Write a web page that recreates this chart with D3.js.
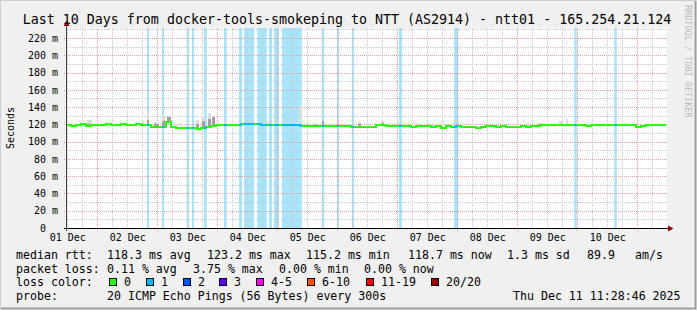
<!DOCTYPE html>
<html>
<head>
<meta charset="utf-8">
<script src="https://cdn.jsdelivr.net/npm/d3@7"></script>
<style>
  body { margin: 0; background: #f0f0f0; }
  svg text { font-family: "DejaVu Sans Mono", monospace; white-space: pre; }
</style>
</head>
<body>
<svg id="chart" width="697" height="310"></svg>
<script>
// time window of the graph (UTC)
const startTime = new Date(Date.UTC(2025, 11, 1, 11, 28, 46));
const endTime = new Date(Date.UTC(2025, 11, 11, 11, 28, 46));

// median rtt in ms, one value per 2 hour bin from startTime
const binHours = 2;
const medianRtt = [
  119.0, 118.3, 119.7, 120.5, 118.3, 119.7, 119.2, 119.5, 120.8, 119.2,
  119.5, 120.8, 119.7, 119.7, 119.9, 119.7, 119.2, 116.6, 116.6, 116.8,
  123.2, 116.5, 116.0, 115.8, 116.0, 115.8, 115.2, 115.5, 116.5, 117.7,
  119.7, 119.7, 119.7, 119.7, 119.7, 120.0, 120.5, 121.0, 120.0, 119.5,
  119.8, 119.5, 119.5, 119.3, 119.6, 119.3, 119.5, 117.7, 118.5, 118.3,
  118.6, 118.2, 118.0, 117.7, 118.0, 117.7, 117.7, 117.5, 116.6, 116.6,
  116.6, 116.8, 119.3, 119.0, 117.7, 117.7, 117.7, 117.7, 118.0, 117.5,
  117.7, 118.0, 117.7, 117.3, 117.7, 115.6, 117.7, 117.5, 117.7, 117.3,
  117.3, 117.3, 116.2, 116.5, 117.7, 117.7, 117.5, 118.5, 117.3, 117.3,
  117.5, 118.5, 117.3, 117.7, 118.5, 119.7, 119.7, 119.5, 119.2, 119.2,
  119.4, 119.2, 118.8, 119.0, 118.6, 118.8, 119.0, 118.7, 118.8, 119.0,
  118.8, 119.0, 118.7, 118.8, 117.5, 117.8, 118.8, 119.0, 118.7, 118.7,
];

// periods with 1/20 packet loss, hours after startTime
const lossFrom = [32.4, 38.4, 48.3, 50.4, 55.2, 63.2, 69.2, 71.2, 76.5, 81.2,
  83.2, 86.4, 102.3, 108.4, 114.3, 133.2, 155.2, 203.3, 219.3];
const lossTo = [33.2, 39.2, 49.2, 51.2, 56.3, 64.3, 70.4, 75.2, 80.3, 82.4,
  85.2, 94.3, 103.2, 109.2, 115.2, 134.4, 156.9, 204.3, 220.3];

// visible smoke: hours after startTime, highest ping and upper quartile (ms)
const smokeFrom = [8.4, 28.4, 32.4, 35.2, 38.4, 40.4, 52.0, 54.4, 56.8, 58.4,
  63.2, 80.4, 88.0, 93.2, 99.2, 102.4, 116.8, 126.0, 188.8, 197.2, 200.0, 203.2];
const smokeTo = [10.4, 29.2, 33.2, 37.2, 39.6, 42.0, 53.2, 55.6, 58.0, 59.6,
  64.0, 82.0, 89.2, 94.4, 100.0, 103.2, 118.0, 127.2, 190.4, 198.8, 200.8, 204.0];
const smokeHigh = [125, 121.5, 133, 123, 128, 130, 125, 130, 133, 128,
  124, 123, 122, 141, 121, 124, 123, 124, 122, 124, 126, 121];
const smokeMid = [121, 121.5, 125, 120, 124, 128, 121, 124, 126, 128,
  121, 120, 120, 121, 120, 124, 120, 122, 120, 120, 121, 121];

const dayLabels = ["01 Dec", "02 Dec", "03 Dec", "04 Dec", "05 Dec",
  "06 Dec", "07 Dec", "08 Dec", "09 Dec", "10 Dec"];
const yTicks = [0, 20, 40, 60, 80, 100, 120, 140, 160, 180, 200, 220];

const lossLegend = ["0", "1", "2", "3", "4-5", "6-10", "11-19", "20/20"];
const lossColors = ["#26ff00", "#00b8ff", "#0059ff", "#5e00ff",
  "#ff00ff", "#ff5500", "#ff0000", "#a10000"];

const title = "Last 10 Days from docker-tools-smokeping to NTT (AS2914) - ntt01 - 165.254.21.124";

const svg = d3.select("#chart");
const plot = { left: 66, right: 666, top: 28, bottom: 228 };

const x = d3.scaleUtc().domain([startTime, endTime]).range([plot.left, plot.right]);
const y = d3.scaleLinear().domain([0, 231.6]).range([plot.bottom, plot.top]);
const at = (h) => d3.utcMinute.offset(startTime, Math.round(h * 60));

// frame
svg.append("rect").attr("width", 697).attr("height", 310).attr("fill", "#f0f0f0");
svg.append("path").attr("d", "M0.5,309.5V0.5H696.5").attr("fill", "none").attr("stroke", "#cfcfcf");
svg.append("path").attr("d", "M1,308.5H695.5V1").attr("fill", "none").attr("stroke", "#9e9e9e").attr("stroke-width", 2);
svg.append("rect")
  .attr("x", plot.left).attr("y", plot.top)
  .attr("width", plot.right - plot.left + 1).attr("height", plot.bottom - plot.top)
  .attr("fill", "#fff");

// loss bands
svg.append("g").selectAll("rect")
  .data(lossFrom)
  .join("rect")
  .attr("x", (d) => x(at(d)))
  .attr("y", plot.top)
  .attr("width", (d, i) => x(at(lossTo[i])) - x(at(d)))
  .attr("height", plot.bottom - plot.top)
  .attr("fill", "#a8e4fa");

// grid
const grid = svg.append("g").attr("shape-rendering", "crispEdges");
const minorX = d3.utcHour.every(6).range(startTime, endTime).filter((d) => d.getUTCHours() !== 0);
const majorX = d3.utcDay.range(startTime, endTime);
grid.selectAll(".vminor").data(minorX).join("line")
  .attr("x1", (d) => Math.round(x(d)) + 0.5).attr("x2", (d) => Math.round(x(d)) + 0.5)
  .attr("y1", plot.top).attr("y2", plot.bottom)
  .attr("stroke", "#c8c8c8").attr("stroke-dasharray", "1,1");
const minorY = d3.range(10, 231, 20);
grid.selectAll(".hminor").data(minorY).join("line")
  .attr("x1", plot.left).attr("x2", plot.right + 2)
  .attr("y1", (d) => Math.round(y(d)) + 0.5).attr("y2", (d) => Math.round(y(d)) + 0.5)
  .attr("stroke", "#c8c8c8").attr("stroke-dasharray", "1,1");
grid.selectAll(".vmajor").data(majorX).join("line")
  .attr("x1", (d) => Math.round(x(d)) + 0.5).attr("x2", (d) => Math.round(x(d)) + 0.5)
  .attr("y1", plot.top).attr("y2", plot.bottom + 3)
  .attr("stroke", "#e8a0a0").attr("stroke-dasharray", "1,1");
grid.selectAll(".hmajor").data(yTicks.slice(1)).join("line")
  .attr("x1", plot.left - 2).attr("x2", plot.right + 2)
  .attr("y1", (d) => Math.round(y(d)) + 0.5).attr("y2", (d) => Math.round(y(d)) + 0.5)
  .attr("stroke", "#e8a0a0").attr("stroke-dasharray", "1,1");

// smoke
const medianAt = (h) => medianRtt[Math.min(medianRtt.length - 1, Math.floor(h / binHours))];
const smoke = svg.append("g").attr("shape-rendering", "crispEdges");
smoke.selectAll(".hi").data(smokeFrom).join("rect")
  .attr("x", (d) => x(at(d)))
  .attr("width", (d, i) => x(at(smokeTo[i])) - x(at(d)))
  .attr("y", (d, i) => y(smokeHigh[i]))
  .attr("height", (d, i) => Math.max(0, y(medianAt(d)) - y(smokeHigh[i])))
  .attr("fill", "#dcdcdc");
smoke.selectAll(".mid").data(smokeFrom).join("rect")
  .attr("x", (d) => x(at(d)))
  .attr("width", (d, i) => x(at(smokeTo[i])) - x(at(d)))
  .attr("y", (d, i) => y(smokeMid[i]))
  .attr("height", (d, i) => Math.max(0, y(medianAt(d)) - y(smokeMid[i])))
  .attr("fill", "#a0a0a0");

// median line, green, blue where a ping was lost
const medianPoints = medianRtt.map((v, i) => [at(i * binHours), v]);
medianPoints.push([endTime, medianRtt[medianRtt.length - 1]]);
const line = d3.line()
  .x((d) => x(d[0]))
  .y((d) => y(d[1]))
  .curve(d3.curveStepAfter);

svg.append("path")
  .datum(medianPoints)
  .attr("fill", "none")
  .attr("stroke", lossColors[0])
  .attr("stroke-width", 2)
  .attr("shape-rendering", "crispEdges")
  .attr("d", line);

const defs = svg.append("defs");
lossFrom.forEach((d, i) => {
  defs.append("clipPath").attr("id", `loss-${i}`)
    .append("rect")
    .attr("x", x(at(d))).attr("y", plot.top)
    .attr("width", x(at(lossTo[i])) - x(at(d)))
    .attr("height", plot.bottom - plot.top);
  svg.append("path")
    .datum(medianPoints)
    .attr("clip-path", `url(#loss-${i})`)
    .attr("fill", "none")
    .attr("stroke", lossColors[1])
    .attr("stroke-width", 2)
    .attr("shape-rendering", "crispEdges")
    .attr("d", line);
});

// axes
const firstDay = d3.utcDay.floor(startTime);
const xAxis = d3.axisBottom(x)
  .tickValues(dayLabels.map((d, i) => d3.utcHour.offset(firstDay, 24 * i + 12)))
  .tickFormat((d, i) => dayLabels[i])
  .tickSize(0)
  .tickPadding(6);
svg.append("g")
  .attr("transform", `translate(0,${plot.bottom})`)
  .call(xAxis)
  .call((g) => g.select(".domain").remove())
  .selectAll("text")
  .attr("font-family", "DejaVu Sans Mono")
  .attr("font-size", 10)
  .attr("fill", "#000");

const yAxis = d3.axisLeft(y)
  .tickValues(yTicks)
  .tickFormat((d) => (d === 0 ? "0  " : `${d} m`))
  .tickSize(0)
  .tickPadding(8);
svg.append("g")
  .attr("transform", `translate(${plot.left},0)`)
  .call(yAxis)
  .call((g) => g.select(".domain").remove())
  .selectAll("text")
  .attr("font-family", "DejaVu Sans Mono")
  .attr("font-size", 10)
  .attr("fill", "#000");

svg.append("line")
  .attr("x1", 64).attr("x2", 669).attr("y1", plot.bottom + 0.5).attr("y2", plot.bottom + 0.5)
  .attr("stroke", "#000");
svg.append("line")
  .attr("x1", plot.left + 0.5).attr("x2", plot.left + 0.5).attr("y1", 231).attr("y2", 25)
  .attr("stroke", "#444");
svg.append("path").attr("d", "M668,225.5L673.5,228.5L668,231.5Z").attr("fill", "#900000");
svg.append("path").attr("d", "M63.5,26L66.5,20.5L69.5,26Z").attr("fill", "#900000");

// titles
svg.append("text")
  .attr("x", 347).attr("y", 24)
  .attr("text-anchor", "middle")
  .attr("font-size", 13.3)
  .text(title);
svg.append("text")
  .attr("transform", "translate(14,128) rotate(-90)")
  .attr("text-anchor", "middle")
  .attr("font-size", 10)
  .text("Seconds");
svg.append("text")
  .attr("transform", "translate(685,5) rotate(90)")
  .attr("font-size", 8.5)
  .attr("fill", "#bbb")
  .text("RRDTOOL / TOBI OETIKER");

// legend
const legendFont = 11.6;
const rows = [
  [[16, "median rtt:"], [107, "118.3 ms avg"], [207, "123.2 ms max"], [306, "115.2 ms min"],
   [408, "118.7 ms now"], [507, "1.3 ms sd"], [587, "89.9"], [635, "am/s"]],
  [[16, "packet loss:"], [107, "0.11 % avg"], [193, "3.75 % max"], [279, "0.00 % min"], [364, "0.00 % now"]],
  [[16, "loss color:"]],
  [[16, "probe:"], [107, "20 ICMP Echo Pings (56 Bytes) every 300s"], [513, "Thu Dec 11 11:28:46 2025"]],
];
rows.forEach((row, r) => {
  svg.append("g").selectAll("text").data(row).join("text")
    .attr("x", (d) => d[0])
    .attr("y", 259 + r * 13.6)
    .attr("font-size", legendFont)
    .text((d) => d[1]);
});

const swatchX = [109, 146, 183, 219, 256, 307, 366, 431];
const sw = svg.append("g").selectAll("g").data(lossLegend).join("g")
  .attr("transform", (d, i) => `translate(${swatchX[i]},278)`);
sw.append("rect")
  .attr("x", 0.5).attr("y", 0.5).attr("width", 7).attr("height", 7)
  .attr("fill", (d, i) => lossColors[i])
  .attr("stroke", "#000");
sw.append("text")
  .attr("x", 15).attr("y", 8)
  .attr("font-size", legendFont)
  .text((d) => d);
</script>
</body>
</html>
